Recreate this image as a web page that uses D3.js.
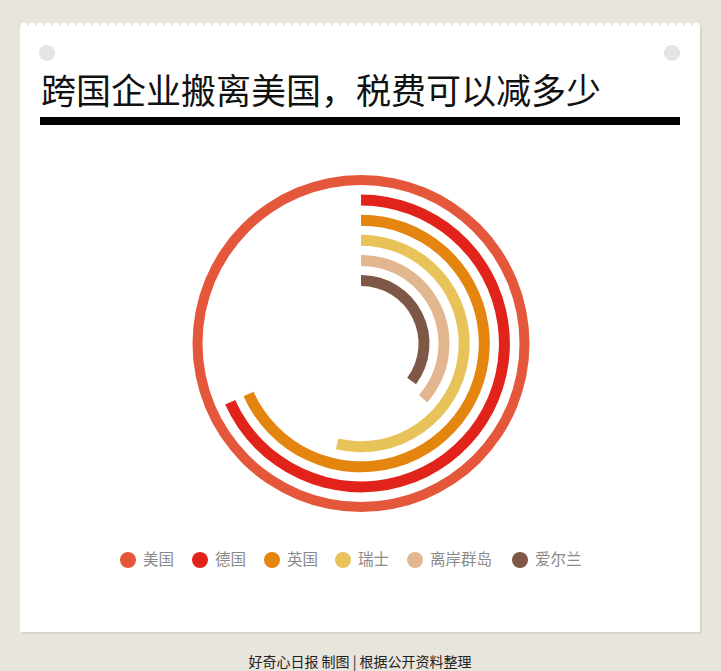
<!DOCTYPE html>
<html><head><meta charset="utf-8">
<script src="https://cdn.jsdelivr.net/npm/d3@7"></script>
<style>html,body{margin:0;padding:0;background:#e8e5dc;}svg{display:block;}</style>
</head><body>
<svg id="c" width="721" height="671"></svg>
<script>
// ---- data ----
const title = "跨国企业搬离美国，税费可以减多少";
const countries = ["美国", "德国", "英国", "瑞士", "离岸群岛", "爱尔兰"];
const taxRates = [35, 23.9, 23.9, 18.8, 12.8, 12.3];
const colors = ["#e4573b", "#e2231c", "#e3850e", "#e8c35a", "#e2b790", "#7e5746"];
const footer = "好奇心日报 制图 | 根据公开资料整理";

const svg = d3.select("#c");
const W = 721, H = 671;
const font = "'Noto Sans CJK SC','Noto Sans',sans-serif";

// background
svg.append("rect").attr("width", W).attr("height", H).attr("fill", "#e8e5dc");
// card shadow + card
svg.append("rect").attr("x", 22).attr("y", 27).attr("width", 680).attr("height", 607).attr("fill", "#d9d6cd");
svg.append("rect").attr("x", 20).attr("y", 26).attr("width", 680).attr("height", 606).attr("fill", "#ffffff");
// scalloped top edge
svg.append("g").selectAll("circle").data(d3.range(24, 700, 8)).join("circle")
  .attr("cx", d => d).attr("cy", 26).attr("r", 3.2).attr("fill", "#ffffff");
// punch holes
svg.append("g").selectAll("circle").data([47, 672]).join("circle")
  .attr("cx", d => d).attr("cy", 53).attr("r", 8).attr("fill", "#e4e4e2");

// title
svg.append("text").attr("x", 41).attr("y", 104)
  .attr("font-family", font).attr("font-size", 35).attr("font-weight", 400)
  .attr("fill", "#111").text(title);
svg.append("rect").attr("x", 40).attr("y", 117).attr("width", 640).attr("height", 8).attr("fill", "#000");

// radial chart
const cx = 361, cy = 343.5;
const angle = d3.scaleLinear().domain([0, d3.max(taxRates)]).range([0, 2 * Math.PI]);
const radius = d3.scaleLinear().domain([0, countries.length - 1]).range([163.5, 63]);
const arc = d3.arc()
  .innerRadius((d, i) => radius(i) - (i === 0 ? 5 : 5.5))
  .outerRadius((d, i) => radius(i) + (i === 0 ? 5 : 5.5))
  .startAngle(0)
  .endAngle(d => angle(d));

const g = svg.append("g").attr("transform", `translate(${cx},${cy})`);
g.selectAll("path").data(taxRates).join("path")
  .attr("d", (d, i) => arc(d, i))
  .attr("fill", (d, i) => colors[i]);

// legend
const legendX = [128, 200, 272, 343, 415, 520];
const lg = svg.append("g").selectAll("g").data(countries).join("g")
  .attr("transform", (d, i) => `translate(${legendX[i]},560)`);
lg.append("circle").attr("r", 8).attr("fill", (d, i) => colors[i]);
lg.append("text").attr("x", 15).attr("dy", "0.35em")
  .attr("font-family", font).attr("font-size", 15.5).attr("fill", "#8a8a8a")
  .text(d => d);

// footer
svg.append("text").attr("x", 360).attr("y", 662).attr("dy", "0.35em")
  .attr("text-anchor", "middle").attr("font-family", font).attr("font-size", 14)
  .attr("fill", "#222").text(footer);
</script>
</body></html>
